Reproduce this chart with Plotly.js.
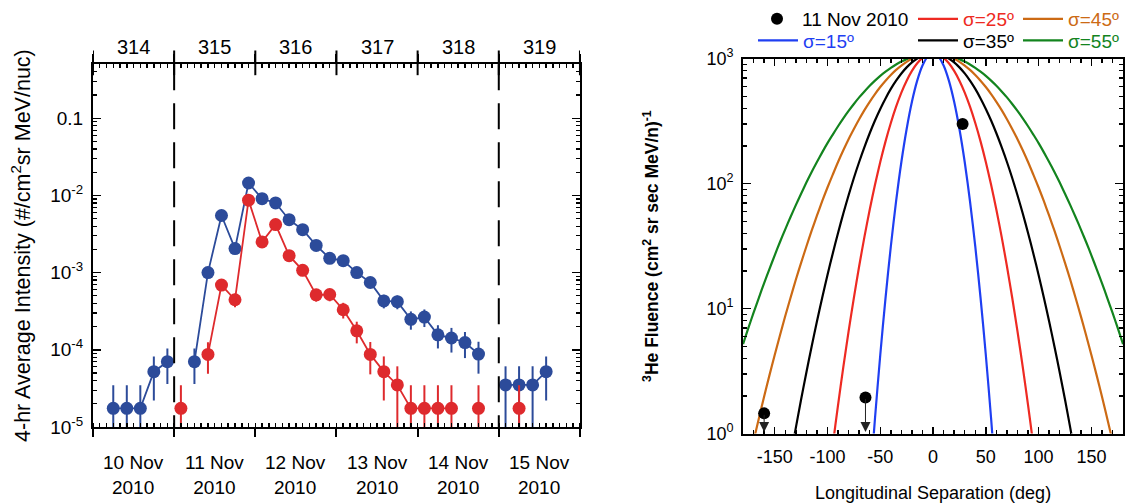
<!DOCTYPE html>
<html><head><meta charset="utf-8">
<script src="https://cdn.plot.ly/plotly-3.0.1.min.js"></script>
<style>html,body{margin:0;padding:0;background:#fff}</style>
</head><body><div id="chart" style="width:1127px;height:504px"></div>
<script>
// ---------------- Left panel data (day of year 2010, 4-hr averages) ----------------
const dayEdges   = [314, 315, 316, 317, 318, 319, 320];
const dayCenters = [314.5, 315.5, 316.5, 317.5, 318.5, 319.5];
const doyLabels  = ['314', '315', '316', '317', '318', '319'];
const dateLabels = ['10 Nov<br>2010', '11 Nov<br>2010', '12 Nov<br>2010', '13 Nov<br>2010', '14 Nov<br>2010', '15 Nov<br>2010'];
const gapLines   = [315, 319];

const blueDOY = [314.25, 314.4167, 314.5833, 314.75, 314.9167, 315.0833, 315.25, 315.4167, 315.5833, 315.75, 315.9167,
  316.0833, 316.25, 316.4167, 316.5833, 316.75, 316.9167, 317.0833, 317.25, 317.4167, 317.5833, 317.75, 317.9167,
  318.0833, 318.25, 318.4167, 318.5833, 318.75, 318.9167, 319.0833, 319.25, 319.4167, 319.5833];
const blueVal = [1.74e-5, 1.74e-5, 1.74e-5, 5.2e-5, 7.0e-5, null, 7.0e-5, 1.0e-3, 5.5e-3, 2.05e-3, 1.45e-2,
  9.1e-3, 8.0e-3, 4.85e-3, 3.6e-3, 2.25e-3, 1.53e-3, 1.43e-3, 1.0e-3, 7.45e-4, 4.3e-4, 4.2e-4, 2.48e-4,
  2.65e-4, 1.56e-4, 1.42e-4, 1.24e-4, 8.8e-5, null, 3.5e-5, 3.5e-5, 3.5e-5, 5.2e-5];
const blueErr = [1.74e-5, 1.74e-5, 1.74e-5, 3.0e-5, 3.4e-5, null, 3.4e-5, 1.3e-4, 3.1e-4, 1.9e-4, 5.0e-4,
  4.0e-4, 3.7e-4, 2.9e-4, 2.5e-4, 2.0e-4, 1.6e-4, 1.6e-4, 1.3e-4, 1.1e-4, 8.6e-5, 8.5e-5, 6.6e-5,
  6.8e-5, 5.2e-5, 5.0e-5, 4.6e-5, 3.9e-5, null, 2.6e-5, 2.6e-5, 2.6e-5, 3.0e-5];

const redDOY = [315.0833, 315.25, 315.4167, 315.5833, 315.75, 315.9167, 316.0833, 316.25, 316.4167, 316.5833,
  316.75, 316.9167, 317.0833, 317.25, 317.4167, 317.5833, 317.75, 317.9167, 318.0833, 318.25, 318.4167,
  318.5833, 318.75, 318.9167, 319.0833, 319.25];
const redVal = [1.74e-5, null, 8.7e-5, 6.9e-4, 4.45e-4, 8.7e-3, 2.5e-3, 4.2e-3, 1.66e-3, 1.07e-3,
  5.15e-4, 5.2e-4, 3.3e-4, 1.76e-4, 8.7e-5, 5.2e-5, 3.5e-5, 1.74e-5, 1.74e-5, 1.74e-5, 1.74e-5,
  null, 1.74e-5, null, null, 1.74e-5];
const redErr = [1.74e-5, null, 3.8e-5, 1.1e-4, 8.8e-5, 3.9e-4, 2.1e-4, 2.7e-4, 1.7e-4, 1.4e-4,
  9.5e-5, 9.5e-5, 7.6e-5, 5.5e-5, 3.9e-5, 3.0e-5, 2.6e-5, 1.74e-5, 1.74e-5, 1.74e-5, 1.74e-5,
  null, 1.74e-5, null, null, 1.74e-5];

const yTickValsL = [1e-5, 1e-4, 1e-3, 1e-2, 0.1];
const yTickTextL = ['10<sup>-5</sup>', '10<sup>-4</sup>', '10<sup>-3</sup>', '10<sup>-2</sup>', '0.1'];

// ---------------- Right panel data ----------------
// half profiles of the model curves read at 0,5,10,... deg (the curves are symmetric about 0)
const sepHalf = [0,5,10,15,20,25,30,35,40,45,50,55,60,65,70,75,80,85,90,95,100,105,110,115,120,125,130,135,140,145,150,155,160,165,170,175,180];
const sigma15 = [1100,1041,881,667,452,274,149,72.3,31.4,12.2,4.25,1.32,0.369];
const sigma25 = [1100,1078,1016,919,799,667,535,413,306,218,149,97.8,61.7,37.5,21.8,12.2,6.57,3.40,1.69,0.805,0.369];
const sigma35 = [1100,1089,1056,1003,934,852,762,667,573,481,396,320,253,196,149,111,80.7,57.6,40.3,27.6,18.6,12.2,7.88,4.98,3.08,1.87,1.11,0.646];
const sigma45 = [1100,1093,1073,1041,997,943,881,813,741,667,593,521,452,388,328,274,227,185,149,118,93.1,72.3,55.4,42.0,31.4,23.2,17.0,12.2,8.71,6.12,4.25,2.92,1.98,1.32,0.876,0.572];
const sigma55 = [1100,1095,1082,1060,1030,992,948,899,844,787,728,667,607,547,490,434,382,333,288,247,211,178,149,124,102,83.1,67.3,54.1,43.1,34.1,26.7,20.7,16.0,12.2,9.27,6.97,5.20];

const heSep   = [28, -160, -64];
const heFlu   = [300, 1.45, 1.94];
const heUpper = [false, true, true];

const xTickValsR = [-150, -100, -50, 0, 50, 100, 150];
const xTickTextR = ['-150', '-100', '-50', '0', '50', '100', '150'];
const yTickValsR = [1, 10, 100, 1000];
const yTickTextR = ['10<sup>0</sup>', '10<sup>1</sup>', '10<sup>2</sup>', '10<sup>3</sup>'];

// ---------------- build ----------------
const FONT = '"Liberation Sans", Arial, Helvetica, sans-serif';
const BLUE_L = '#2c4b9a', RED_L = '#de2a2d';
const C15 = '#1f3ff2', C25 = '#ee2a22', C35 = '#000000', C45 = '#cc6a14', C55 = '#13841e';
const W = 1127, H = 504;
const LEFT_DOM_Y = [0.1548, 0.8829];
const LEFT_H = (LEFT_DOM_Y[1] - LEFT_DOM_Y[0]) * H;

function mirror(half) {
  const xs = [], ys = [];
  for (let i = half.length - 1; i > 0; i--) { xs.push(-sepHalf[i]); ys.push(half[i]); }
  for (let i = 0; i < half.length; i++) { xs.push(sepHalf[i]); ys.push(half[i]); }
  return {x: xs, y: ys};
}
function minorLog(lo, hi) {
  const v = [];
  for (let e = lo; e < hi; e++) for (let m = 2; m <= 9; m++) v.push(m * Math.pow(10, e));
  return v;
}

const traces = [];
traces.push({
  type: 'scatter', mode: 'lines+markers', x: blueDOY, y: blueVal, xaxis: 'x', yaxis: 'y',
  line: {color: BLUE_L, width: 1.8}, marker: {color: BLUE_L, size: 13},
  error_y: {type: 'data', array: blueErr, symmetric: true, thickness: 2, width: 0, color: BLUE_L},
  connectgaps: false, showlegend: false, hoverinfo: 'skip'
});
traces.push({
  type: 'scatter', mode: 'lines+markers', x: redDOY, y: redVal, xaxis: 'x', yaxis: 'y',
  line: {color: RED_L, width: 1.8}, marker: {color: RED_L, size: 13},
  error_y: {type: 'data', array: redErr, symmetric: true, thickness: 2, width: 0, color: RED_L},
  connectgaps: false, showlegend: false, hoverinfo: 'skip'
});

const curves = [
  {half: sigma55, color: C55, name: 'σ=55º', legend: 'legend6'},
  {half: sigma45, color: C45, name: 'σ=45º', legend: 'legend3'},
  {half: sigma35, color: C35, name: 'σ=35º', legend: 'legend5'},
  {half: sigma25, color: C25, name: 'σ=25º', legend: 'legend2'},
  {half: sigma15, color: C15, name: 'σ=15º', legend: 'legend4'}
];
curves.forEach(c => {
  const m = mirror(c.half);
  traces.push({
    type: 'scatter', mode: 'lines', x: m.x, y: m.y, xaxis: 'x2', yaxis: 'y2',
    line: {color: c.color, width: 2.2, shape: 'spline', smoothing: 0.8},
    name: '<span style="color:' + c.color + '">' + c.name + '</span>', legend: c.legend, showlegend: true, hoverinfo: 'skip'
  });
});
traces.push({
  type: 'scatter', mode: 'markers', x: heSep, y: heFlu, xaxis: 'x2', yaxis: 'y2',
  marker: {color: '#000', size: 12}, name: '11 Nov 2010', legend: 'legend', showlegend: true, hoverinfo: 'skip'
});

const annotations = [];
heSep.forEach((s, i) => {
  if (!heUpper[i]) return;
  annotations.push({
    x: s, y: Math.log10(1.03), xref: 'x2', yref: 'y2',
    ax: s, ay: Math.log10(heFlu[i]), axref: 'x2', ayref: 'y2',
    text: '', showarrow: true, arrowhead: 2, arrowsize: 2, arrowwidth: 1, arrowcolor: '#222', standoff: 0
  });
});
// day-of-year labels above, date labels below the left panel
dayCenters.forEach((d, i) => {
  annotations.push({x: d, xref: 'x', y: 1 - 41 / H, yref: 'paper', text: doyLabels[i], showarrow: false,
    xanchor: 'center', yanchor: 'middle', font: {size: 20}});
  annotations.push({x: d, xref: 'x', y: 1 - 475 / H, yref: 'paper', text: dateLabels[i], showarrow: false,
    xanchor: 'center', yanchor: 'middle', font: {size: 19}});
});

const shapes = gapLines.map(d => ({
  type: 'line', xref: 'x', yref: 'y domain', x0: d, x1: d, y0: 1, y1: 0,
  line: {color: '#000', width: 2, dash: '26px,13px'}
}));
// top-axis major ticks cross the frame line
dayEdges.forEach(d => {
  shapes.push({type: 'line', xref: 'x', yref: 'y domain', x0: d, x1: d,
    y0: 1 + 14 / LEFT_H, y1: 1 - 11 / LEFT_H, line: {color: '#000', width: 2}});
});

const axBase = {showgrid: false, zeroline: false, linecolor: '#000', tickcolor: '#000', color: '#000'};

function leg(xpx, ypx) {
  return {x: xpx / W, y: 1 - ypx / H, xanchor: 'left', yanchor: 'middle', bgcolor: 'rgba(0,0,0,0)',
          borderwidth: 0, font: {family: FONT, size: 19, color: '#000'}, orientation: 'v', itemwidth: 40};
}

const layout = {
  width: W, height: H, margin: {l: 0, r: 0, t: 0, b: 0},
  paper_bgcolor: '#fff', plot_bgcolor: 'rgba(0,0,0,0)',
  font: {family: FONT, size: 19, color: '#000'},
  showlegend: true,
  xaxis: Object.assign({}, axBase, {
    domain: [0.0825, 0.5146], anchor: 'y', range: [314, 320], tickmode: 'array', tickvals: dayEdges,
    ticks: 'outside', ticklen: 8, tickwidth: 2, showticklabels: false, showline: true, linewidth: 2,
    mirror: 'allticks',
    minor: {ticks: 'inside', tickmode: 'linear', dtick: 1 / 12, tick0: 314, ticklen: 4, tickwidth: 1.5, tickcolor: '#000', showgrid: false}
  }),
  yaxis: Object.assign({}, axBase, {
    domain: LEFT_DOM_Y, anchor: 'x', type: 'log', range: [-5, -0.3],
    tickmode: 'array', tickvals: yTickValsL, ticktext: yTickTextL,
    ticks: 'inside', ticklen: 8, tickwidth: 1.5, mirror: 'allticks', showline: true, linewidth: 2,
    ticklabelstandoff: 4, tickfont: {size: 19},
    minor: {tickmode: 'array', tickvals: minorLog(-5, 0), ticks: 'inside', ticklen: 4, tickwidth: 1.2, tickcolor: '#000', showgrid: false},
    title: {text: '4-hr Average Intensity (#/cm<sup>2</sup>sr MeV/nuc)', font: {size: 21.5}, standoff: 14}
  }),
  xaxis2: Object.assign({}, axBase, {
    domain: [0.6593, 0.9965], anchor: 'y2', range: [-180, 180], tickmode: 'array',
    tickvals: xTickValsR, ticktext: xTickTextR,
    ticks: 'inside', ticklen: 7, tickwidth: 1.5, mirror: 'allticks', showline: true, linewidth: 2,
    ticklabelstandoff: 6, tickfont: {size: 18},
    minor: {dtick: 10, tick0: 0, ticks: 'inside', ticklen: 4, tickwidth: 1.5, tickcolor: '#000', showgrid: false},
    title: {text: 'Longitudinal Separation (deg)', font: {size: 18}, standoff: 20}
  }),
  yaxis2: Object.assign({}, axBase, {
    domain: [0.1415, 0.8942], anchor: 'x2', type: 'log', range: [0, 3],
    tickmode: 'array', tickvals: yTickValsR, ticktext: yTickTextR,
    ticks: 'inside', ticklen: 8, tickwidth: 1.5, mirror: 'allticks', showline: true, linewidth: 2,
    ticklabelstandoff: 4, tickfont: {size: 18},
    minor: {tickmode: 'array', tickvals: minorLog(0, 3), ticks: 'inside', ticklen: 4, tickwidth: 1.2, tickcolor: '#000', showgrid: false},
    title: {text: '<b><sup>3</sup>He Fluence (cm<sup>2</sup> sr sec MeV/n)<sup>-1</sup></b>', font: {size: 17.5}, standoff: 43}
  }),
  legend: leg(752, 13),
  legend2: leg(913, 13),
  legend3: leg(1018, 13),
  legend4: leg(753, 35),
  legend5: leg(913, 35),
  legend6: leg(1018, 35),
  annotations: annotations,
  shapes: shapes
};

Plotly.newPlot('chart', traces, layout, {staticPlot: true, displayModeBar: false});
</script></body></html>
